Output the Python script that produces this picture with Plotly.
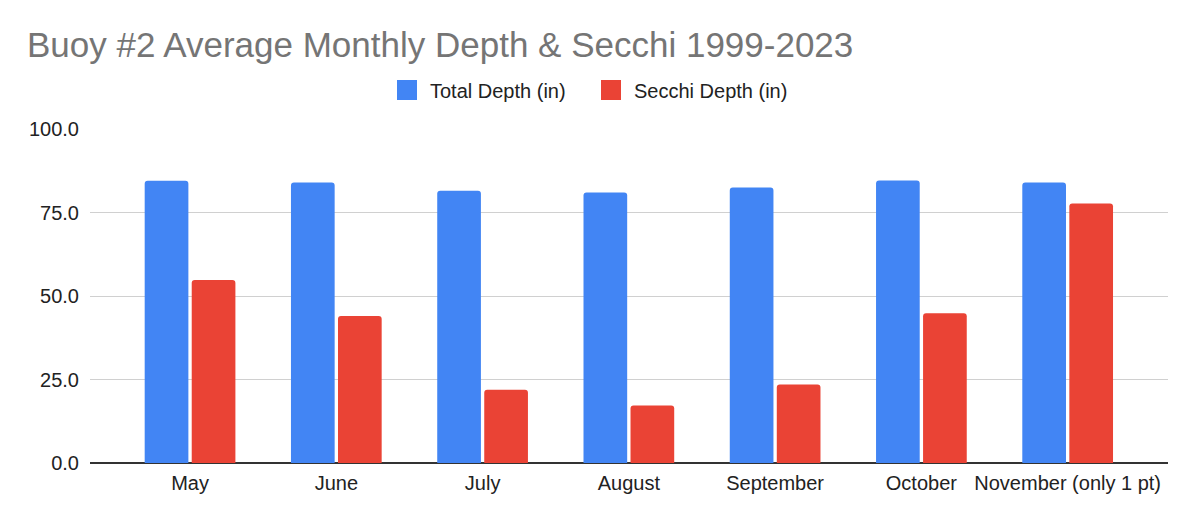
import plotly.graph_objects as go

# ---- data ----
months = ["May", "June", "July", "August", "September", "October", "November (only 1 pt)"]
total_depth = [84.5, 84.0, 81.5, 81.0, 82.5, 84.6, 84.0]
secchi_depth = [54.8, 44.0, 21.9, 17.2, 23.5, 44.8, 77.7]
series_names = ["Total Depth (in)", "Secchi Depth (in)"]
series_colors = ["#4285F4", "#EA4335"]
y_ticks = [0, 25, 50, 75, 100]

W, H = 1195, 519
OFF = 8  # page body margin
ML, MT = 82, 121
MR = W - (1168 - OFF)
MB = H - (463 - OFF)
PW, PH = W - ML - MR, H - MT - MB
FONT = "Arial, 'Liberation Sans', sans-serif"


def px_x(x):
    return (x - OFF - ML) / PW


def px_y(y):
    return 1 - (y - OFF - MT) / PH


fig = go.Figure()
for name, vals, col in zip(series_names, [total_depth, secchi_depth], series_colors):
    fig.add_trace(go.Bar(x=months, y=vals, name=name,
                         marker=dict(color=col, cornerradius=3, line=dict(width=0)),
                         showlegend=False))
# legend swatches (larger squares than default bar legend symbols)
for name, col in zip(series_names, series_colors):
    fig.add_trace(go.Scatter(x=[None], y=[None], mode="markers", name=name,
                             marker=dict(symbol="square", size=16, color=col,
                                         line=dict(color=col, width=4))))

fig.update_layout(
    width=W, height=H, autosize=False,
    margin=dict(l=ML, r=MR, t=MT, b=MB, pad=0),
    paper_bgcolor="white", plot_bgcolor="white",
    font=dict(family=FONT, size=20, color="#222222"),
    title=dict(text="Buoy #2 Average Monthly Depth & Secchi 1999-2023",
               font=dict(family=FONT, size=35, color="#757575"),
               xref="container", yref="container", x=(27 - OFF) / W, xanchor="left",
               y=1 - (45 - OFF) / H, yanchor="middle"),
    barmode="group", bargap=0.357, bargroupgap=0.071,
    showlegend=True,
    legend=dict(orientation="h", x=px_x(384), xanchor="left", y=px_y(90), yanchor="middle",
                font=dict(family=FONT, size=20, color="#222222"), bgcolor="rgba(0,0,0,0)",
                itemsizing="trace", itemwidth=36, entrywidth=153, entrywidthmode="pixels"),
    xaxis=dict(type="category", range=[-0.684, 6.686], showgrid=False, showline=False,
               ticks="", tickfont=dict(size=20, color="#222222"), zeroline=False,
               ticklabelstandoff=6),
    yaxis=dict(range=[0, 100], tickvals=y_ticks, tickformat=".1f", showgrid=True,
               gridcolor="#d0d0d0", gridwidth=1, zeroline=True, zerolinecolor="#333333",
               zerolinewidth=2, showline=False, ticks="", ticklabelstandoff=10,
               tickfont=dict(size=20, color="#222222")),
)

fig.write_html("out.html")
